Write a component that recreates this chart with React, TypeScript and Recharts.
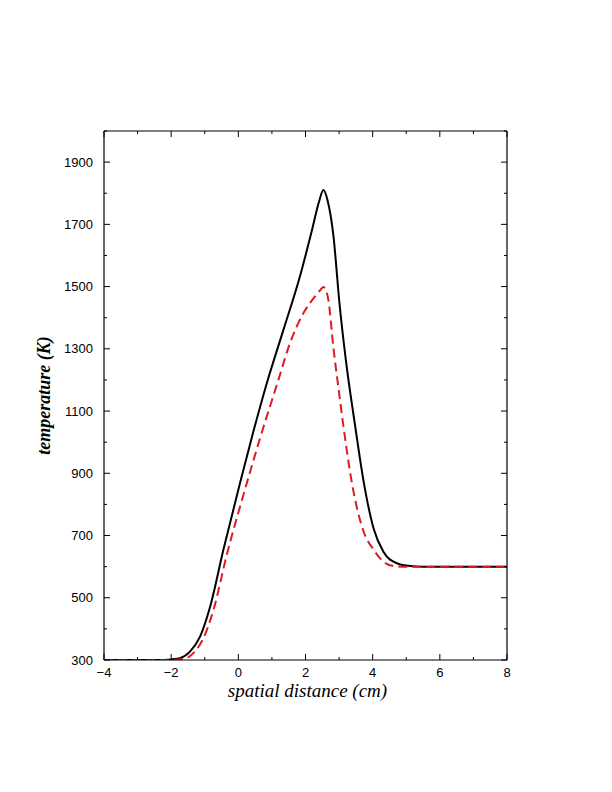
import { LineChart, Line, XAxis, YAxis } from "recharts";

// spatial distance (cm) / temperature (K)
const blackX = [-4, -3, -2.4, -2, -1.74, -1.44, -1.14, -0.84, -0.445, 0.05, 0.45, 0.85, 1.34, 1.84, 2.19, 2.4, 2.535, 2.65, 2.83, 3.01, 3.2, 3.48, 3.73, 4.03, 4.32, 4.72, 5.12, 5.5, 6, 7, 8];
const blackTemp = [300, 300, 300, 302, 306, 327, 375, 471, 654, 869, 1035, 1190, 1360, 1535, 1680, 1772, 1810, 1780, 1665, 1448, 1265, 1051, 874, 722, 648, 611, 602, 600, 600, 600, 600];

const redX = [-4, -3, -2.2, -1.9, -1.64, -1.34, -1.04, -0.74, -0.34, 0.15, 0.648, 1.195, 1.54, 1.94, 2.29, 2.45, 2.535, 2.6, 2.68, 2.83, 2.98, 3.13, 3.38, 3.73, 4.03, 4.32, 4.62, 5, 6, 7, 8];
const redTemp = [300, 300, 300, 301, 303, 322, 370, 461, 640, 830, 1013, 1201, 1319, 1415, 1469, 1490, 1499, 1490, 1458, 1305, 1175, 1051, 870, 713, 654, 616, 602, 600, 600, 600, 600];

const xTicks = [-4, -3, -2, -1, 0, 1, 2, 3, 4, 5, 6, 7, 8];
const xLabels = [-4, -2, 0, 2, 4, 6, 8];
const yTicks = [300, 400, 500, 600, 700, 800, 900, 1000, 1100, 1200, 1300, 1400, 1500, 1600, 1700, 1800, 1900, 2000];
const yLabels = [300, 500, 700, 900, 1100, 1300, 1500, 1700, 1900];

const blackData = blackX.map((x, i) => ({ x, t: blackTemp[i] }));
const redData = redX.map((x, i) => ({ x, t: redTemp[i] }));

const tickFont = { fontFamily: "Liberation Sans, Arial, sans-serif", fontSize: 13 };
const titleFont = { fontFamily: "Liberation Serif, Times New Roman, serif", fontStyle: "italic" as const, fontSize: 19 };

const fmt = (v: number) => (v < 0 ? `\u2212${Math.abs(v)}` : String(v));

// ticks point inward, majors are longer
function BottomTick(props: any) {
  const { x, y, payload } = props;
  const major = xLabels.includes(payload.value);
  return (
    <g>
      <line x1={x} x2={x} y1={y} y2={y - (major ? 6 : 3)} stroke="#000" />
      {major && (
        <text x={x} y={y + 17} textAnchor="middle" fill="#000" {...tickFont}>
          {fmt(payload.value)}
        </text>
      )}
    </g>
  );
}

function TopTick(props: any) {
  const { x, y, payload } = props;
  const major = xLabels.includes(payload.value);
  return <line x1={x} x2={x} y1={y} y2={y + (major ? 6 : 3)} stroke="#000" />;
}

function LeftTick(props: any) {
  const { x, y, payload } = props;
  const major = yLabels.includes(payload.value);
  return (
    <g>
      <line x1={x} x2={x + (major ? 6 : 3)} y1={y} y2={y} stroke="#000" />
      {major && (
        <text x={x - 11} y={y + 4.5} textAnchor="end" fill="#000" {...tickFont}>
          {payload.value}
        </text>
      )}
    </g>
  );
}

function RightTick(props: any) {
  const { x, y, payload } = props;
  const major = yLabels.includes(payload.value);
  return <line x1={x} x2={x - (major ? 6 : 3)} y1={y} y2={y} stroke="#000" />;
}

function XTitle(props: any) {
  const vb = props.viewBox;
  return (
    <text x={vb.x + vb.width / 2 + 2} y={vb.y + 37} textAnchor="middle" fill="#000" {...titleFont}>
      spatial distance (cm)
    </text>
  );
}

function YTitle(props: any) {
  const vb = props.viewBox;
  const cx = 50;
  const cy = vb.y + vb.height / 2;
  return (
    <text
      x={cx}
      y={cy}
      textAnchor="middle"
      fill="#000"
      fontWeight="bold"
      transform={`rotate(-90 ${cx} ${cy})`}
      {...titleFont}
      fontSize={18}
    >
      temperature (K)
    </text>
  );
}

export default function App() {
  return (
    <div style={{ position: "absolute", left: 0, top: 0, width: 612, height: 792, background: "#fff" }}>
      <LineChart width={612} height={792} margin={{ top: 111, right: 85, bottom: 102, left: 44 }}>
        <XAxis
          xAxisId="bottom"
          type="number"
          dataKey="x"
          domain={[-4, 8]}
          ticks={xTicks}
          allowDataOverflow
          height={30}
          tickSize={0}
          tickMargin={0}
          tickLine={false}
          axisLine={{ stroke: "#000", strokeWidth: 1.2 }}
          tick={<BottomTick />}
          label={<XTitle />}
          interval={0}
        />
        <XAxis
          xAxisId="top"
          orientation="top"
          type="number"
          dataKey="x"
          domain={[-4, 8]}
          ticks={xTicks}
          allowDataOverflow
          height={20}
          tickSize={0}
          tickMargin={0}
          tickLine={false}
          axisLine={{ stroke: "#000", strokeWidth: 1.2 }}
          tick={<TopTick />}
          interval={0}
        />
        <YAxis
          yAxisId="left"
          type="number"
          domain={[300, 2000]}
          ticks={yTicks}
          allowDataOverflow
          width={60}
          tickSize={0}
          tickMargin={0}
          tickLine={false}
          axisLine={{ stroke: "#000", strokeWidth: 1.2 }}
          tick={<LeftTick />}
          label={<YTitle />}
          interval={0}
        />
        <YAxis
          yAxisId="right"
          orientation="right"
          type="number"
          domain={[300, 2000]}
          ticks={yTicks}
          allowDataOverflow
          width={20}
          tickSize={0}
          tickMargin={0}
          tickLine={false}
          axisLine={{ stroke: "#000", strokeWidth: 1.2 }}
          tick={<RightTick />}
          interval={0}
        />
        <Line
          xAxisId="bottom"
          yAxisId="left"
          data={blackData}
          dataKey="t"
          type="monotone"
          stroke="#000"
          strokeWidth={2}
          dot={false}
          isAnimationActive={false}
        />
        <Line
          xAxisId="bottom"
          yAxisId="left"
          data={redData}
          dataKey="t"
          type="monotone"
          stroke="#dd1c1c"
          strokeWidth={2}
          strokeDasharray="9 5"
          dot={false}
          isAnimationActive={false}
        />
      </LineChart>
    </div>
  );
}
